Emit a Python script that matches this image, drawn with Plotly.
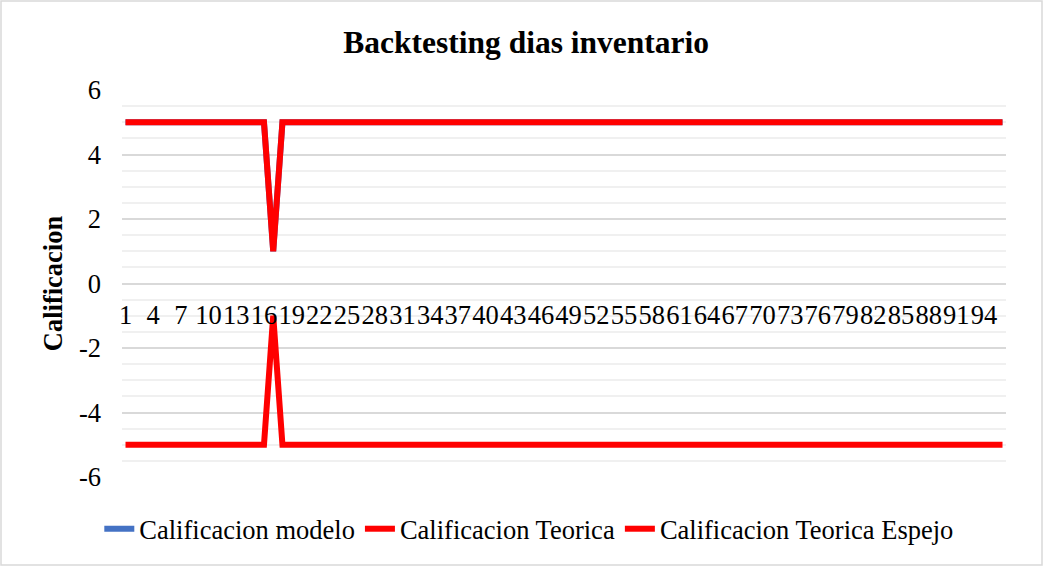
import plotly.graph_objects as go

# ---- data ----
categories = list(range(1, 97))
calif_modelo = [5] * 16 + [1] + [5] * 79
calif_teorica = [5] * 16 + [1] + [5] * 79
calif_teorica_espejo = [-5] * 16 + [-1] + [-5] * 79
x_tick_vals = list(range(1, 97, 3))
x_tick_text = [str(v) for v in x_tick_vals]
y_tick_vals = [-6, -4, -2, 0, 2, 4, 6]
y_tick_text = ["-6", "-4", "-2", "0", "2", "4", "6"]

FONT = "Liberation Serif, Times New Roman, serif"
W, H = 1044, 566
ML, MR, MT, MB = 122, 38, 90, 89

fig = go.Figure()
fig.add_trace(go.Scatter(x=categories, y=calif_modelo, mode="lines",
                         name="Calificacion modelo",
                         line=dict(color="#4472C4", width=6)))
fig.add_trace(go.Scatter(x=categories, y=calif_teorica, mode="lines",
                         name="Calificacion Teorica",
                         line=dict(color="#FF0000", width=6)))
fig.add_trace(go.Scatter(x=categories, y=calif_teorica_espejo, mode="lines",
                         name="Calificacion Teorica Espejo",
                         line=dict(color="#FF0000", width=6)))

pw = W - ML - MR
ph = H - MT - MB
fig.add_shape(type="rect", xref="paper", yref="paper",
              x0=(-ML + 1) / pw, x1=(pw + MR - 2) / pw,
              y0=(-MB + 1) / ph, y1=(ph + MT - 1) / ph,
              line=dict(color="#d9d9d9", width=1.5), layer="below")

fig.update_layout(
    width=W, height=H,
    margin=dict(l=ML, r=MR, t=MT, b=MB, autoexpand=False),
    paper_bgcolor="white", plot_bgcolor="white",
    font=dict(family=FONT, size=26.5, color="#000000"),
    title=dict(text="<b>Backtesting dias inventario</b>",
               font=dict(family=FONT, size=31.5, color="#000000"),
               x=0.504, xanchor="center", xref="container",
               y=1 - 42 / H, yanchor="middle", yref="container"),
    showlegend=True,
    legend=dict(orientation="h", x=0.507, xanchor="center", xref="container",
                y=1 - 529 / H, yanchor="middle", yref="container",
                font=dict(family=FONT, size=26.5, color="#000000"),
                itemwidth=30, tracegroupgap=0),
    hovermode=False,
)

fig.update_xaxes(
    range=[0.62, 96.38], tickmode="array",
    tickvals=x_tick_vals, ticktext=x_tick_text, tickangle=0,
    showgrid=False, zeroline=False, automargin=False,
    showline=True, linecolor="#d9d9d9", linewidth=1.5,
    anchor="free", position=0.5,
    ticks="", ticklabelstandoff=8,
    tickfont=dict(family=FONT, size=26.5, color="#000000"),
)
fig.update_yaxes(
    range=[-6, 6], tickmode="array",
    tickvals=y_tick_vals, ticktext=y_tick_text,
    showgrid=True, gridcolor="#d9d9d9", gridwidth=1.5,
    zeroline=False, showline=False, ticks="", automargin=False,
    ticklabelstandoff=20,
    minor=dict(dtick=0.5, tick0=0, showgrid=True, gridcolor="#f0f0f0", gridwidth=1.5),
    tickfont=dict(family=FONT, size=26.5, color="#000000"),
    title=dict(text="<b>Calificacion</b>", standoff=8,
               font=dict(family=FONT, size=26.5, color="#000000")),
)

fig.write_html("out.html", config={"displayModeBar": False},
               post_script="document.body.style.margin='0';document.body.style.overflow='hidden';")
